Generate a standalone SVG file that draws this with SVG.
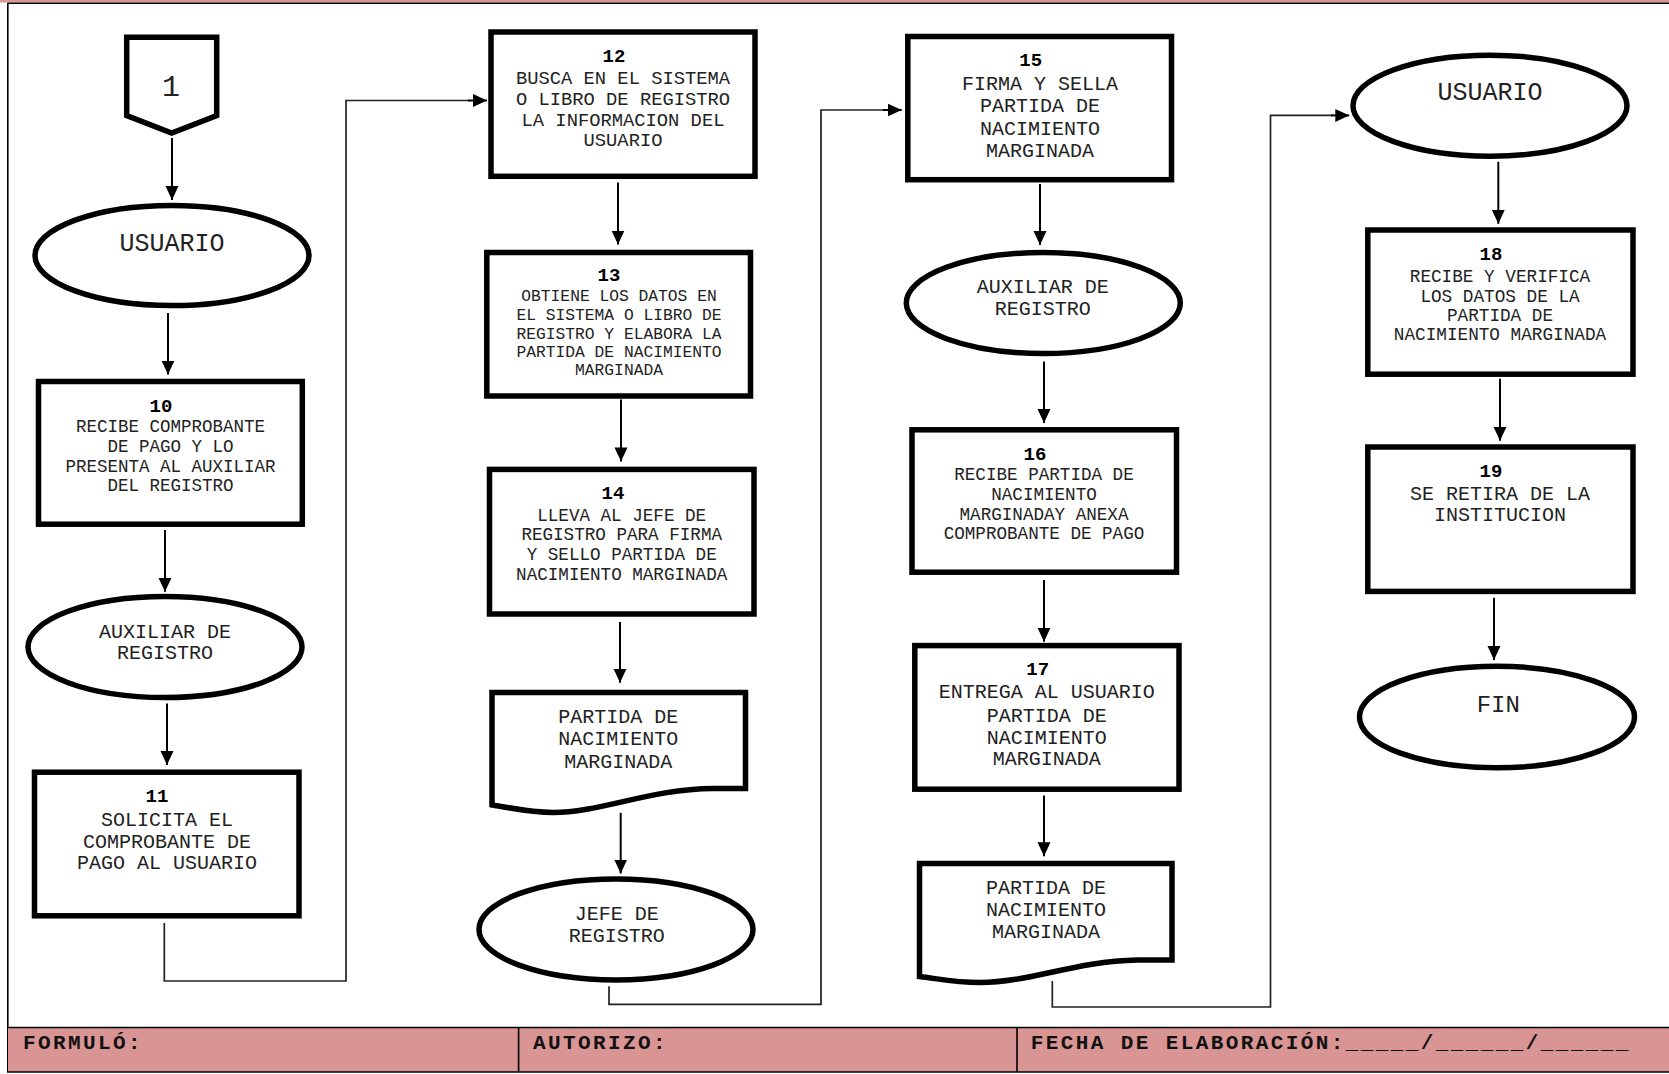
<svg xmlns="http://www.w3.org/2000/svg" width="1669" height="1074" viewBox="0 0 1669 1074">
<style>
  .sh{fill:#fff;stroke:#000;stroke-width:5.5;stroke-linejoin:miter}
  .t{font-family:"Liberation Mono","Courier New",monospace;fill:#222;text-anchor:middle}
  .n{font-family:"Liberation Mono","Courier New",monospace;font-weight:bold;font-size:19px;fill:#000;text-anchor:middle}
  .f{font-family:"Liberation Mono","Courier New",monospace;font-weight:bold;font-size:21px;fill:#111}
  .ar{fill:none;stroke:#000;stroke-width:2}
  .cn{fill:none;stroke:#222;stroke-width:1.7}
  .fr{stroke:#000;stroke-width:1.6;fill:none}
</style>
<defs>
  <marker id="ah" markerUnits="userSpaceOnUse" markerWidth="14" markerHeight="14" refX="14" refY="7" orient="auto">
    <path d="M0,0.5 L14,7 L0,13.5 z" fill="#000"/>
  </marker>
</defs>
<rect x="0" y="0" width="1669" height="1074" fill="#fff"/>
<!-- frame -->
<g id="frame">
  <rect x="0" y="0" width="1669" height="2.5" fill="#D99594"/>
  <line class="fr" x1="7.5" y1="3.2" x2="1669" y2="3.2"/>
  <line class="fr" x1="7.8" y1="3" x2="7.8" y2="1072"/>
  <rect x="8" y="1027.5" width="1661" height="44.5" fill="#D99594"/>
  <line class="fr" x1="7" y1="1027.5" x2="1669" y2="1027.5"/>
  <line class="fr" x1="7" y1="1072" x2="1669" y2="1072"/>
  <line class="fr" x1="518.6" y1="1027.5" x2="518.6" y2="1072"/>
  <line class="fr" x1="1017" y1="1027.5" x2="1017" y2="1072"/>
  <text class="f" x="23" y="1049" letter-spacing="2.4">FORMULÓ:</text>
  <text class="f" x="533" y="1049" letter-spacing="2.4">AUTORIZO:</text>
  <text class="f" x="1030.7" y="1049" letter-spacing="2.4">FECHA DE ELABORACIÓN:_____/______/______</text>
</g>
<!-- connectors -->
<g id="connectors">
  <path class="ar" d="M172,138 V200" marker-end="url(#ah)"/>
  <path class="ar" d="M168,313 V374.6" marker-end="url(#ah)"/>
  <path class="ar" d="M165,530 V591.8" marker-end="url(#ah)"/>
  <path class="ar" d="M167,703.5 V765" marker-end="url(#ah)"/>
  <path class="cn" d="M164.3,923 V981 H346 V100.5 H470"/>
  <path class="ar" d="M468,100.5 H487" marker-end="url(#ah)"/>
  <path class="ar" d="M618,182.5 V244.5" marker-end="url(#ah)"/>
  <path class="ar" d="M621,399.4 V461.4" marker-end="url(#ah)"/>
  <path class="ar" d="M620,622 V682.7" marker-end="url(#ah)"/>
  <path class="ar" d="M620.7,812.8 V873.5" marker-end="url(#ah)"/>
  <path class="cn" d="M609,986.3 V1004.3 H821 V110 H885"/>
  <path class="ar" d="M883,110 H901.7" marker-end="url(#ah)"/>
  <path class="ar" d="M1040,184 V245" marker-end="url(#ah)"/>
  <path class="ar" d="M1044,361.6 V422.9" marker-end="url(#ah)"/>
  <path class="ar" d="M1044,580 V641.7" marker-end="url(#ah)"/>
  <path class="ar" d="M1044,795.4 V856.2" marker-end="url(#ah)"/>
  <path class="cn" d="M1052.3,981 V1007 H1270.5 V115.4 H1333"/>
  <path class="ar" d="M1331,115.4 H1349.3" marker-end="url(#ah)"/>
  <path class="ar" d="M1498.3,161.8 V223.8" marker-end="url(#ah)"/>
  <path class="ar" d="M1500,378.8 V440.8" marker-end="url(#ah)"/>
  <path class="ar" d="M1494,597.7 V660" marker-end="url(#ah)"/>
</g>
<!-- column 1 -->
<g id="n1">
  <path class="sh" d="M126.7,37.2 H216.7 V115.5 L171.7,133 L126.7,115.5 Z"/>
  <text class="t" x="171" y="96" font-size="30">1</text>
</g>
<g id="usuario1">
  <ellipse class="sh" cx="172" cy="255.5" rx="137" ry="50"/>
  <text class="t" x="172" y="250.7" font-size="25">USUARIO</text>
</g>
<g id="n10">
  <rect class="sh" x="38.5" y="381.5" width="263.8" height="142.7"/>
  <text class="n" x="161" y="411.5">10</text>
  <text class="t" font-size="17.5"><tspan x="170.5" y="432">RECIBE COMPROBANTE</tspan><tspan x="170.5" y="452">DE PAGO Y LO</tspan><tspan x="170.5" y="472">PRESENTA AL AUXILIAR</tspan><tspan x="170.5" y="490.7">DEL REGISTRO</tspan></text>
</g>
<g id="aux1">
  <ellipse class="sh" cx="165" cy="647" rx="137" ry="50.5"/>
  <text class="t" font-size="20"><tspan x="165" y="638.3">AUXILIAR DE</tspan><tspan x="165" y="659">REGISTRO</tspan></text>
</g>
<g id="n11">
  <rect class="sh" x="34.5" y="772.2" width="264.5" height="143.6"/>
  <text class="n" x="157" y="802.4">11</text>
  <text class="t" font-size="20"><tspan x="167" y="826">SOLICITA EL</tspan><tspan x="167" y="848">COMPROBANTE DE</tspan><tspan x="167" y="869">PAGO AL USUARIO</tspan></text>
</g>
<!-- column 2 -->
<g id="n12">
  <rect class="sh" x="491" y="32" width="264" height="144.3"/>
  <text class="n" x="614" y="62">12</text>
  <text class="t" font-size="18.8"><tspan x="623" y="84.4">BUSCA EN EL SISTEMA</tspan><tspan x="623" y="105">O LIBRO DE REGISTRO</tspan><tspan x="623" y="125.7">LA INFORMACION DEL</tspan><tspan x="623" y="146.3">USUARIO</tspan></text>
</g>
<g id="n13">
  <rect class="sh" x="486.8" y="252.5" width="263.7" height="143.5"/>
  <text class="n" x="609" y="280.6">13</text>
  <text class="t" font-size="16.3"><tspan x="619" y="301.3">OBTIENE LOS DATOS EN</tspan><tspan x="619" y="320.2">EL SISTEMA O LIBRO DE</tspan><tspan x="619" y="338.5">REGISTRO Y ELABORA LA</tspan><tspan x="619" y="357">PARTIDA DE NACIMIENTO</tspan><tspan x="619" y="374.7">MARGINADA</tspan></text>
</g>
<g id="n14">
  <rect class="sh" x="489.5" y="469.4" width="264.5" height="144.6"/>
  <text class="n" x="613" y="499.3">14</text>
  <text class="t" font-size="17.6"><tspan x="621.7" y="520.7">LLEVA AL JEFE DE</tspan><tspan x="621.7" y="540.4">REGISTRO PARA FIRMA</tspan><tspan x="621.7" y="560.3">Y SELLO PARTIDA DE</tspan><tspan x="621.7" y="579.6">NACIMIENTO MARGINADA</tspan></text>
</g>
<g id="doc1">
  <path class="sh" d="M492,692.4 H745.5 V788.5 H713 C650,789 600,812.5 553,812.5 C530,812.5 512,808 492,805 Z"/>
  <text class="t" font-size="20"><tspan x="618.3" y="722.6">PARTIDA DE</tspan><tspan x="618.3" y="745">NACIMIENTO</tspan><tspan x="618.3" y="767.7">MARGINADA</tspan></text>
</g>
<g id="jefe">
  <ellipse class="sh" cx="616" cy="929.4" rx="137" ry="50.5"/>
  <text class="t" font-size="20"><tspan x="616.7" y="920.4">JEFE DE</tspan><tspan x="616.7" y="942.2">REGISTRO</tspan></text>
</g>
<!-- column 3 -->
<g id="n15">
  <rect class="sh" x="907.8" y="36.5" width="263.7" height="143.2"/>
  <text class="n" x="1030.7" y="66">15</text>
  <text class="t" font-size="20"><tspan x="1040" y="89.5">FIRMA Y SELLA</tspan><tspan x="1040" y="112">PARTIDA DE</tspan><tspan x="1040" y="134.5">NACIMIENTO</tspan><tspan x="1040" y="156.7">MARGINADA</tspan></text>
</g>
<g id="aux2">
  <ellipse class="sh" cx="1043.3" cy="303" rx="137" ry="50.5"/>
  <text class="t" font-size="20"><tspan x="1042.7" y="293.4">AUXILIAR DE</tspan><tspan x="1042.7" y="315">REGISTRO</tspan></text>
</g>
<g id="n16">
  <rect class="sh" x="912" y="429.8" width="264.5" height="142.4"/>
  <text class="n" x="1035" y="459.7">16</text>
  <text class="t" font-size="17.6"><tspan x="1044" y="480.4">RECIBE PARTIDA DE</tspan><tspan x="1044" y="500.3">NACIMIENTO</tspan><tspan x="1044" y="520">MARGINADAY ANEXA</tspan><tspan x="1044" y="539">COMPROBANTE DE PAGO</tspan></text>
</g>
<g id="n17">
  <rect class="sh" x="914.8" y="645.6" width="264.2" height="143.6"/>
  <text class="n" x="1037.7" y="675">17</text>
  <text class="t" font-size="20"><tspan x="1046.7" y="698.3">ENTREGA AL USUARIO</tspan><tspan x="1046.7" y="721.9">PARTIDA DE</tspan><tspan x="1046.7" y="744.4">NACIMIENTO</tspan><tspan x="1046.7" y="765.3">MARGINADA</tspan></text>
</g>
<g id="doc2">
  <path class="sh" d="M919.5,863.5 H1172 V960 H1137 C1075,961 1030,982.5 980,982.5 C955,982.5 940,979 919.5,976.5 Z"/>
  <text class="t" font-size="20"><tspan x="1046" y="893.6">PARTIDA DE</tspan><tspan x="1046" y="916.2">NACIMIENTO</tspan><tspan x="1046" y="938.4">MARGINADA</tspan></text>
</g>
<!-- column 4 -->
<g id="usuario2">
  <ellipse class="sh" cx="1490" cy="105.7" rx="137" ry="50.5"/>
  <text class="t" x="1490" y="99.9" font-size="25">USUARIO</text>
</g>
<g id="n18">
  <rect class="sh" x="1367.8" y="230" width="265.2" height="144.2"/>
  <text class="n" x="1491" y="260">18</text>
  <text class="t" font-size="17.7"><tspan x="1500" y="281.5">RECIBE Y VERIFICA</tspan><tspan x="1500" y="301.5">LOS DATOS DE LA</tspan><tspan x="1500" y="321">PARTIDA DE</tspan><tspan x="1500" y="340">NACIMIENTO MARGINADA</tspan></text>
</g>
<g id="n19">
  <rect class="sh" x="1367.8" y="447" width="265.2" height="144.4"/>
  <text class="n" x="1491" y="477">19</text>
  <text class="t" font-size="20"><tspan x="1500" y="500">SE RETIRA DE LA</tspan><tspan x="1500" y="520.7">INSTITUCION</tspan></text>
</g>
<g id="fin">
  <ellipse class="sh" cx="1497" cy="717" rx="137.5" ry="50.7"/>
  <text class="t" x="1498.3" y="712.2" font-size="24">FIN</text>
</g>
</svg>
